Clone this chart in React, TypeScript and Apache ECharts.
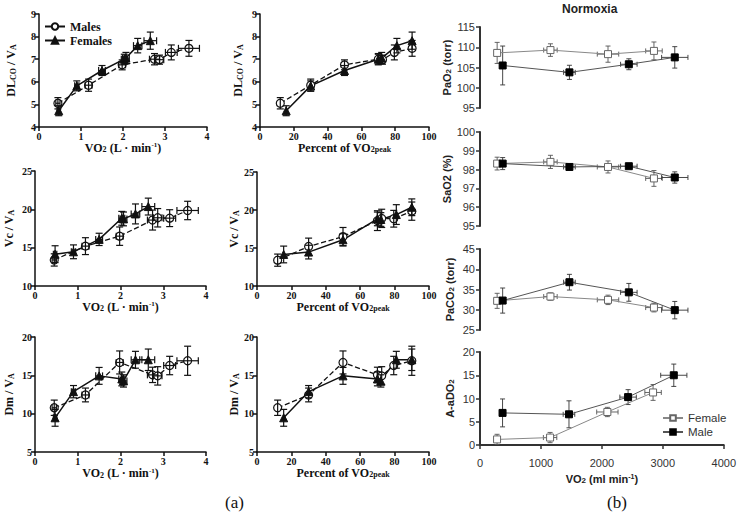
import React, { useEffect, useRef } from "react";
import * as echarts from "echarts";

// ---------- data: left block (a) ----------
const vo2Males = [0.45, 1.18, 1.98, 2.75, 2.87, 3.15, 3.57];
const vo2MalesErr = [0.05, 0.08, 0.08, 0.12, 0.1, 0.14, 0.25];
const vo2Females = [0.47, 0.9, 1.5, 2.03, 2.07, 2.35, 2.65];
const vo2FemalesErr = [0.04, 0.05, 0.08, 0.07, 0.08, 0.1, 0.15];
const pctMales = [12, 30, 50, 70, 72.5, 79.5, 90];
const pctFemales = [15.5, 30, 50, 70, 72, 81, 90];

const dlcoMales = [5.05, 5.85, 6.75, 7.0, 6.98, 7.3, 7.48];
const dlcoMalesErr = [0.25, 0.27, 0.22, 0.25, 0.2, 0.33, 0.35];
const dlcoFemales = [4.72, 5.82, 6.5, 7.0, 7.05, 7.6, 7.82];
const dlcoFemalesErr = [0.22, 0.22, 0.22, 0.22, 0.25, 0.32, 0.38];

const vcMales = [13.4, 15.2, 16.5, 18.6, 18.9, 18.85, 19.85];
const vcMalesErr = [0.8, 1.1, 1.2, 1.3, 1.2, 1.1, 1.2];
const vcFemales = [14.15, 14.46, 16.08, 18.83, 18.75, 19.4, 20.36];
const vcFemalesErr = [1.1, 0.9, 0.8, 0.9, 0.9, 1.3, 1.1];

const dmMales = [10.77, 12.44, 16.68, 15.06, 14.93, 16.28, 16.9];
const dmMalesErr = [1.0, 0.9, 1.5, 1.0, 1.2, 1.2, 1.9];
const dmFemales = [9.46, 12.87, 14.93, 14.53, 14.27, 17.03, 17.03];
const dmFemalesErr = [1.1, 0.8, 1.1, 0.9, 0.8, 1.1, 1.4];

// ---------- data: right block (b) ----------
const vo2Female = [280, 1150, 2090, 2840];
const vo2FemaleErr = [40, 110, 175, 135];
const vo2Male = [370, 1460, 2430, 3180];
const vo2MaleErr = [30, 95, 135, 215];

const pao2Female = [108.6, 109.3, 108.3, 109.1];
const pao2FemaleErr = [2.6, 1.55, 2.0, 2.2];
const pao2Male = [105.5, 103.8, 105.8, 107.5];
const pao2MaleErr = [4.8, 1.75, 1.35, 2.65];

const sao2Female = [98.32, 98.41, 98.14, 97.53];
const sao2FemaleErr = [0.34, 0.35, 0.32, 0.42];
const sao2Male = [98.32, 98.14, 98.18, 97.58];
const sao2MaleErr = [0.32, 0.08, 0.08, 0.3];

const paco2Female = [32.2, 33.26, 32.44, 30.54];
const paco2FemaleErr = [1.86, 0.9, 1.16, 1.07];
const paco2Male = [32.27, 36.8, 34.3, 29.9];
const paco2MaleErr = [3.1, 1.94, 2.2, 2.15];

const aado2Female = [1.2, 1.6, 7.1, 11.3];
const aado2FemaleErr = [1.1, 1.1, 1.0, 1.7];
const aado2Male = [6.9, 6.6, 10.3, 15.0];
const aado2MaleErr = [3.0, 2.9, 1.6, 2.4];

const SERIF = '"Liberation Serif", "Times New Roman", serif';
const SANS = '"Liberation Sans", Arial, sans-serif';

const serifRich = {
  s: { fontFamily: SERIF, fontWeight: "bold", fontSize: 8, lineHeight: 8, verticalAlign: "bottom", color: "#111" },
  p: { fontFamily: SERIF, fontWeight: "bold", fontSize: 7, lineHeight: 7, verticalAlign: "top", color: "#111" },
};
const sansRich = {
  s: { fontFamily: SANS, fontWeight: "bold", fontSize: 8, lineHeight: 8, verticalAlign: "bottom", color: "#222" },
  p: { fontFamily: SANS, fontWeight: "bold", fontSize: 7, lineHeight: 7, verticalAlign: "top", color: "#222" },
};

function zip(xs: number[], ys: number[]) {
  return xs.map((x, i) => [x, ys[i]]);
}
function zipErr(xs: number[], ys: number[], xe: number[] | null, ye: number[]) {
  return xs.map((x, i) => [x, ys[i], xe ? xe[i] : 0, ye[i]]);
}

function errRender(color: string, cap: number, lw: number) {
  return (params: any, api: any) => {
    const x = api.value(0);
    const y = api.value(1);
    const xe = api.value(2);
    const ye = api.value(3);
    const style = { stroke: color, lineWidth: lw, fill: null };
    const children: any[] = [];
    if (ye > 0) {
      const t = api.coord([x, y + ye]);
      const b = api.coord([x, y - ye]);
      children.push({ type: "line", shape: { x1: t[0], y1: t[1], x2: b[0], y2: b[1] }, style });
      children.push({ type: "line", shape: { x1: t[0] - cap, y1: t[1], x2: t[0] + cap, y2: t[1] }, style });
      children.push({ type: "line", shape: { x1: b[0] - cap, y1: b[1], x2: b[0] + cap, y2: b[1] }, style });
    }
    if (xe > 0) {
      const l = api.coord([x - xe, y]);
      const r = api.coord([x + xe, y]);
      children.push({ type: "line", shape: { x1: l[0], y1: l[1], x2: r[0], y2: r[1] }, style });
      children.push({ type: "line", shape: { x1: l[0], y1: l[1] - cap, x2: l[0], y2: l[1] + cap }, style });
      children.push({ type: "line", shape: { x1: r[0], y1: r[1] - cap, x2: r[0], y2: r[1] + cap }, style });
    }
    return { type: "group", children };
  };
}

export default function App() {
  const ref = useRef<HTMLDivElement>(null);

  useEffect(() => {
    if (!ref.current) return;
    const chart = echarts.init(ref.current, undefined, { renderer: "svg" });

    const grids = [
      { left: 39, top: 14, width: 168, height: 113 },
      { left: 260, top: 14, width: 169, height: 113 },
      { left: 35, top: 171, width: 171, height: 115 },
      { left: 257, top: 172, width: 172, height: 114 },
      { left: 35, top: 337, width: 171, height: 115 },
      { left: 257, top: 337, width: 172, height: 115 },
      { left: 480, top: 27, width: 245, height: 81 },
      { left: 480, top: 132, width: 245, height: 94 },
      { left: 480, top: 249, width: 245, height: 81 },
      { left: 480, top: 352, width: 245, height: 93 },
    ];

    const leftAxisLine = { show: true, lineStyle: { color: "#111", width: 1.5 } };
    const leftTick = { show: true, length: 4, lineStyle: { color: "#111", width: 1.5 } };
    const leftLabel = { fontFamily: SERIF, fontWeight: "bold", fontSize: 10, color: "#111", margin: 4 };
    const leftName = { fontFamily: SERIF, fontWeight: "bold", fontSize: 12, color: "#111", rich: serifRich };

    const vo2Name = "VO{s|2} (L · min{p|-1})";
    const pctName = "Percent of VO{s|2peak}";

    const xAxes: any[] = [];
    const yAxes: any[] = [];
    const leftX = [
      { name: vo2Name, max: 4, interval: 1, gap: 13 },
      { name: pctName, max: 100, interval: 20, gap: 14 },
      { name: vo2Name, max: 4, interval: 1, gap: 14 },
      { name: pctName, max: 100, interval: 20, gap: 14 },
      { name: vo2Name, max: 4, interval: 1, gap: 15 },
      { name: pctName, max: 100, interval: 20, gap: 14 },
    ];
    const leftY = [
      { name: "DL{s|CO} / V{s|A}", min: 4, max: 9, interval: 1, gap: 22 },
      { name: "DL{s|CO} / V{s|A}", min: 4, max: 9, interval: 1, gap: 16 },
      { name: "Vc / V{s|A}", min: 10, max: 25, interval: 5, gap: 20 },
      { name: "Vc / V{s|A}", min: 10, max: 25, interval: 5, gap: 16 },
      { name: "Dm / V{s|A}", min: 5, max: 20, interval: 5, gap: 20 },
      { name: "Dm / V{s|A}", min: 5, max: 20, interval: 5, gap: 16 },
    ];
    leftX.forEach((a, i) => {
      xAxes.push({
        type: "value", gridIndex: i, min: 0, max: a.max, interval: a.interval,
        name: a.name, nameLocation: "middle", nameGap: a.gap, nameTextStyle: leftName,
        axisLine: leftAxisLine, axisTick: leftTick, axisLabel: leftLabel, splitLine: { show: false },
      });
    });
    leftY.forEach((a, i) => {
      yAxes.push({
        type: "value", gridIndex: i, min: a.min, max: a.max, interval: a.interval,
        name: a.name, nameLocation: "middle", nameGap: a.gap, nameRotate: 90, nameTextStyle: leftName,
        axisLine: leftAxisLine, axisTick: leftTick, axisLabel: { ...leftLabel, margin: 3 }, splitLine: { show: false },
      });
    });

    const rightAxisLine = { show: true, lineStyle: { color: "#333", width: 2 } };
    const rightTick = { show: true, length: 4, lineStyle: { color: "#333", width: 1.5 } };
    const rightLabel = { fontFamily: SANS, fontSize: 11, color: "#333", margin: 5, formatter: (v: number) => String(v) };
    const rightName = { fontFamily: SANS, fontWeight: "bold", fontSize: 11, color: "#222", rich: sansRich };
    const rightY = [
      { name: "PaO{s|2} (torr)", min: 95, max: 115, interval: 5 },
      { name: "SaO2 (%)", min: 95, max: 100, interval: 1 },
      { name: "PaCO{s|2} (torr)", min: 25, max: 45, interval: 5 },
      { name: "A-aDO{s|2}", min: 0, max: 20, interval: 5 },
    ];
    rightY.forEach((a, k) => {
      const gi = 6 + k;
      const last = k === 3;
      xAxes.push({
        type: "value", gridIndex: gi, min: 0, max: 4000, interval: 1000, show: last,
        name: last ? "VO{s|2} (ml min{p|-1})" : "", nameLocation: "middle", nameGap: 28, nameTextStyle: rightName,
        axisLine: rightAxisLine, axisTick: rightTick, axisLabel: { ...rightLabel, margin: 12 }, splitLine: { show: false },
      });
      yAxes.push({
        type: "value", gridIndex: gi, min: a.min, max: a.max, interval: a.interval,
        name: a.name, nameLocation: "middle", nameGap: 25, nameRotate: 90, nameTextStyle: rightName,
        axisLine: rightAxisLine, axisTick: rightTick, axisLabel: rightLabel, splitLine: { show: false },
      });
    });

    const series: any[] = [];
    const maleStyle = {
      symbol: "circle", symbolSize: 8,
      itemStyle: { color: "#fff", borderColor: "#111", borderWidth: 1.2 },
      lineStyle: { color: "#111", width: 1.3, type: "dashed" },
    };
    const femaleStyle = {
      symbol: "triangle", symbolSize: 8,
      itemStyle: { color: "#111", borderColor: "#111", borderWidth: 1 },
      lineStyle: { color: "#111", width: 1.5, type: "solid" },
    };
    const leftPanels = [
      { mx: vo2Males, fx: vo2Females, mxe: vo2MalesErr, fxe: vo2FemalesErr, my: dlcoMales, mye: dlcoMalesErr, fy: dlcoFemales, fye: dlcoFemalesErr },
      { mx: pctMales, fx: pctFemales, mxe: null, fxe: null, my: dlcoMales, mye: dlcoMalesErr, fy: dlcoFemales, fye: dlcoFemalesErr },
      { mx: vo2Males, fx: vo2Females, mxe: vo2MalesErr, fxe: vo2FemalesErr, my: vcMales, mye: vcMalesErr, fy: vcFemales, fye: vcFemalesErr },
      { mx: pctMales, fx: pctFemales, mxe: null, fxe: null, my: vcMales, mye: vcMalesErr, fy: vcFemales, fye: vcFemalesErr },
      { mx: vo2Males, fx: vo2Females, mxe: vo2MalesErr, fxe: vo2FemalesErr, my: dmMales, mye: dmMalesErr, fy: dmFemales, fye: dmFemalesErr },
      { mx: pctMales, fx: pctFemales, mxe: null, fxe: null, my: dmMales, mye: dmMalesErr, fy: dmFemales, fye: dmFemalesErr },
    ];
    leftPanels.forEach((p, i) => {
      series.push({ type: "line", name: "Males", xAxisIndex: i, yAxisIndex: i, data: zip(p.mx, p.my), z: 3, ...maleStyle });
      series.push({ type: "line", name: "Females", xAxisIndex: i, yAxisIndex: i, data: zip(p.fx, p.fy), z: 3, ...femaleStyle });
      series.push({
        type: "custom", xAxisIndex: i, yAxisIndex: i, silent: true, z: 4,
        renderItem: errRender("#111", 3.5, 1.2), encode: { x: 0, y: 1 },
        data: zipErr(p.mx, p.my, p.mxe, p.mye),
      });
      series.push({
        type: "custom", xAxisIndex: i, yAxisIndex: i, silent: true, z: 4,
        renderItem: errRender("#111", 3.5, 1.2), encode: { x: 0, y: 1 },
        data: zipErr(p.fx, p.fy, p.fxe, p.fye),
      });
    });

    const rightFemaleStyle = {
      symbol: "rect", symbolSize: 7,
      itemStyle: { color: "#fff", borderColor: "#666", borderWidth: 1 },
      lineStyle: { color: "#888", width: 1 },
    };
    const rightMaleStyle = {
      symbol: "rect", symbolSize: 7,
      itemStyle: { color: "#000", borderColor: "#000", borderWidth: 1 },
      lineStyle: { color: "#555", width: 1 },
    };
    const rightPanels = [
      { fy: pao2Female, fye: pao2FemaleErr, my: pao2Male, mye: pao2MaleErr },
      { fy: sao2Female, fye: sao2FemaleErr, my: sao2Male, mye: sao2MaleErr },
      { fy: paco2Female, fye: paco2FemaleErr, my: paco2Male, mye: paco2MaleErr },
      { fy: aado2Female, fye: aado2FemaleErr, my: aado2Male, mye: aado2MaleErr },
    ];
    rightPanels.forEach((p, k) => {
      const gi = 6 + k;
      series.push({ type: "line", name: "Female", xAxisIndex: gi, yAxisIndex: gi, data: zip(vo2Female, p.fy), z: 3, ...rightFemaleStyle });
      series.push({ type: "line", name: "Male", xAxisIndex: gi, yAxisIndex: gi, data: zip(vo2Male, p.my), z: 3, ...rightMaleStyle });
      series.push({
        type: "custom", xAxisIndex: gi, yAxisIndex: gi, silent: true, z: 2,
        renderItem: errRender("#555", 2.5, 0.9), encode: { x: 0, y: 1 },
        data: zipErr(vo2Female, p.fy, vo2FemaleErr, p.fye),
      });
      series.push({
        type: "custom", xAxisIndex: gi, yAxisIndex: gi, silent: true, z: 2,
        renderItem: errRender("#333", 2.5, 0.9), encode: { x: 0, y: 1 },
        data: zipErr(vo2Male, p.my, vo2MaleErr, p.mye),
      });
    });

    chart.setOption({
      animation: false,
      grid: grids,
      xAxis: xAxes,
      yAxis: yAxes,
      legend: [
        {
          data: ["Males", "Females"], orient: "vertical", left: 44, top: 20, itemGap: 1,
          itemWidth: 20, itemHeight: 8, selectedMode: false, padding: 0,
          textStyle: { fontFamily: SERIF, fontWeight: "bold", fontSize: 12, color: "#111", lineHeight: 13 },
        },
        {
          data: ["Female", "Male"], orient: "vertical", left: 662, top: 412, itemGap: 2,
          itemWidth: 20, itemHeight: 7, selectedMode: false, padding: 0,
          textStyle: { fontFamily: SANS, fontSize: 11.5, color: "#333", lineHeight: 11 },
        },
      ],
      graphic: [
        { type: "text", left: 562, top: 3, style: { text: "Normoxia", fontFamily: SANS, fontWeight: "bold", fontSize: 12, fill: "#222" } },
        { type: "text", left: 225, top: 494, style: { text: "(a)", fontFamily: SERIF, fontSize: 17, fill: "#111" } },
        { type: "text", left: 607, top: 494, style: { text: "(b)", fontFamily: SERIF, fontSize: 17, fill: "#111" } },
      ],
      series,
    });

    return () => chart.dispose();
  }, []);

  return (
    <div
      ref={ref}
      style={{ position: "absolute", left: 0, top: 0, width: 739, height: 518, background: "#fff" }}
    />
  );
}
